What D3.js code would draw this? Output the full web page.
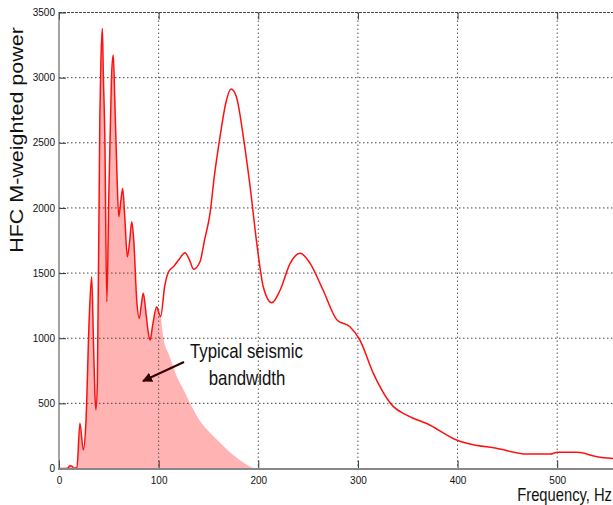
<!DOCTYPE html>
<html>
<head>
<meta charset="utf-8">
<script src="https://cdn.jsdelivr.net/npm/d3@7"></script>
<style>
body { margin: 0; background: #fff; }
text { font-family: Arial, "Liberation Sans", sans-serif; fill: #111; }
</style>
</head>
<body>
<div id="chart"></div>
<script>
// spectrum (Hz, power)
let freq = [0, 5, 9, 11, 13, 15, 18, 21, 24.4, 27, 30.4, 32.8, 34.4, 36, 37, 38.5, 41, 42, 43.5, 44.5, 46, 48,
  50, 52, 53, 54.5, 56, 58, 60, 62, 63.9, 66, 68.6, 71, 73, 75, 78, 80.6, 82.5, 84.6, 87.3, 89.5, 91.4, 94, 98,
  100, 102, 106, 110, 115, 120, 126.5, 131, 135, 141.5, 146, 151.6, 156, 161.6, 167.7, 172.7, 178, 185, 191.8,
  198.5, 205, 213.5, 222, 232, 242, 252, 265, 279, 292, 302, 315.5, 335.6, 349, 372, 399, 412.6, 439, 469.5,
  493, 500, 520, 540, 560];
let power = [0, 0, 5, 22, 18, 2, 5, 347, 142, 350, 1165, 1472, 1040, 580, 450, 655, 2700, 3110, 3378, 3020, 2546, 1280,
  2100, 2777, 3058, 3173, 2828, 2300, 1932, 2050, 2150, 1932, 1625, 1750, 1894, 1754, 1293, 1153, 1250, 1345, 1191, 1050, 986, 1100, 1242,
  1200, 1165, 1395, 1510, 1550, 1600, 1656, 1600, 1530, 1587, 1750, 1960, 2250, 2546, 2815, 2912, 2853, 2546, 2163,
  1728, 1395, 1272, 1370, 1575, 1652, 1575, 1370, 1140, 1088, 986, 730, 475, 410, 334, 219, 188, 155, 111,
  111, 124, 124, 91, 75];

// shaded "typical seismic bandwidth" tail after 102 Hz
let tailFreq = [105, 110, 118, 125, 133, 141, 152, 162, 172, 182, 190, 196];
let tailPower = [990, 880, 710, 605, 480, 370, 270, 195, 120, 62, 22, 0];

let xTicks = [0, 100, 200, 300, 400, 500];
let yTicks = [0, 500, 1000, 1500, 2000, 2500, 3000, 3500];

let width = 613, height = 505;

let svg = d3.select("#chart").append("svg")
  .attr("width", width)
  .attr("height", height);

let x = d3.scaleLinear().domain([0, 556]).range([59, 613]);
let y = d3.scaleLinear().domain([0, 3500]).range([468.5, 12.5]);

svg.append("clipPath").attr("id", "clip")
  .append("rect").attr("x", 59).attr("y", 0).attr("width", 554).attr("height", 469);

let pts = freq.map(function(d, i) { return [d, power[i]]; });
let band = pts.filter(function(d) { return d[0] <= 102; })
  .concat(tailFreq.map(function(d, i) { return [d, tailPower[i]]; }));

let plot = svg.append("g").attr("clip-path", "url(#clip)");

plot.append("path")
  .datum(band)
  .attr("fill", "#ffb3b3")
  .attr("d", d3.area()
    .x(function(d) { return x(d[0]); })
    .y0(y(0))
    .y1(function(d) { return y(d[1]); })
    .curve(d3.curveMonotoneX));

// dotted grid
plot.selectAll(".gx").data(xTicks.slice(1)).enter().append("line")
  .attr("x1", function(d) { return x(d); }).attr("x2", function(d) { return x(d); })
  .attr("y1", y(3500)).attr("y2", y(0))
  .attr("stroke", "#555").attr("stroke-dasharray", "1.5,2.5");
plot.selectAll(".gy").data(yTicks.slice(1)).enter().append("line")
  .attr("x1", 59).attr("x2", 613)
  .attr("y1", function(d) { return y(d); }).attr("y2", function(d) { return y(d); })
  .attr("stroke", "#444").attr("stroke-dasharray", function(d) { return d == 3500 ? "3,1" : "1.5,2.5"; });

plot.append("path")
  .datum(pts)
  .attr("fill", "none")
  .attr("stroke", "#ff1010")
  .attr("stroke-width", 1.5)
  .attr("d", d3.line()
    .x(function(d) { return x(d[0]); })
    .y(function(d) { return y(d[1]); })
    .curve(d3.curveMonotoneX));

// axes, ticks inside like matlab
let fmt = d3.format("d");
svg.append("g").attr("transform", "translate(0," + y(0) + ")")
  .call(d3.axisBottom(x).tickValues(xTicks).tickFormat(fmt).tickSize(-8).tickPadding(8));
svg.append("g").attr("transform", "translate(59,0)")
  .call(d3.axisLeft(y).tickValues(yTicks).tickFormat(fmt).tickSize(-7).tickPadding(4));
svg.append("g").attr("transform", "translate(0," + y(3500) + ")")
  .call(d3.axisTop(x).tickValues(xTicks).tickSize(-7).tickFormat(""));

svg.selectAll(".domain").remove();
svg.selectAll(".tick line").attr("stroke", "#333");
svg.selectAll(".tick text").attr("font-size", 10).attr("fill", "#111");

svg.append("line").attr("x1", 59).attr("x2", 59).attr("y1", 12).attr("y2", 469)
  .attr("stroke", "#666").attr("stroke-width", 1.2);
svg.append("line").attr("x1", 58).attr("x2", 613).attr("y1", 469).attr("y2", 469)
  .attr("stroke", "#888").attr("stroke-width", 2);

// labels
svg.append("text")
  .attr("transform", "translate(22.5,140) rotate(-90) scale(1,0.85)")
  .attr("text-anchor", "middle")
  .attr("font-size", 21.5)
  .text("HFC M-weighted power");

svg.append("text")
  .attr("transform", "translate(612,501) scale(0.82,1)")
  .attr("text-anchor", "end")
  .attr("font-size", 18)
  .text("Frequency, Hz");

svg.append("text")
  .attr("transform", "translate(246.5,358) scale(0.82,1)")
  .attr("text-anchor", "middle")
  .attr("font-size", 20.5)
  .text("Typical seismic");
svg.append("text")
  .attr("transform", "translate(247,385) scale(0.82,1)")
  .attr("text-anchor", "middle")
  .attr("font-size", 20.5)
  .text("bandwidth");

// arrow
svg.append("defs").append("marker")
  .attr("id", "head")
  .attr("viewBox", "0 0 10 10")
  .attr("refX", 9).attr("refY", 5)
  .attr("markerWidth", 5).attr("markerHeight", 5)
  .attr("orient", "auto")
  .append("path").attr("d", "M0,0 L10,5 L0,10 z").attr("fill", "#330000");
svg.append("line")
  .attr("x1", 184).attr("y1", 362).attr("x2", 143).attr("y2", 381)
  .attr("stroke", "#330000").attr("stroke-width", 2)
  .attr("marker-end", "url(#head)");
</script>
</body>
</html>
